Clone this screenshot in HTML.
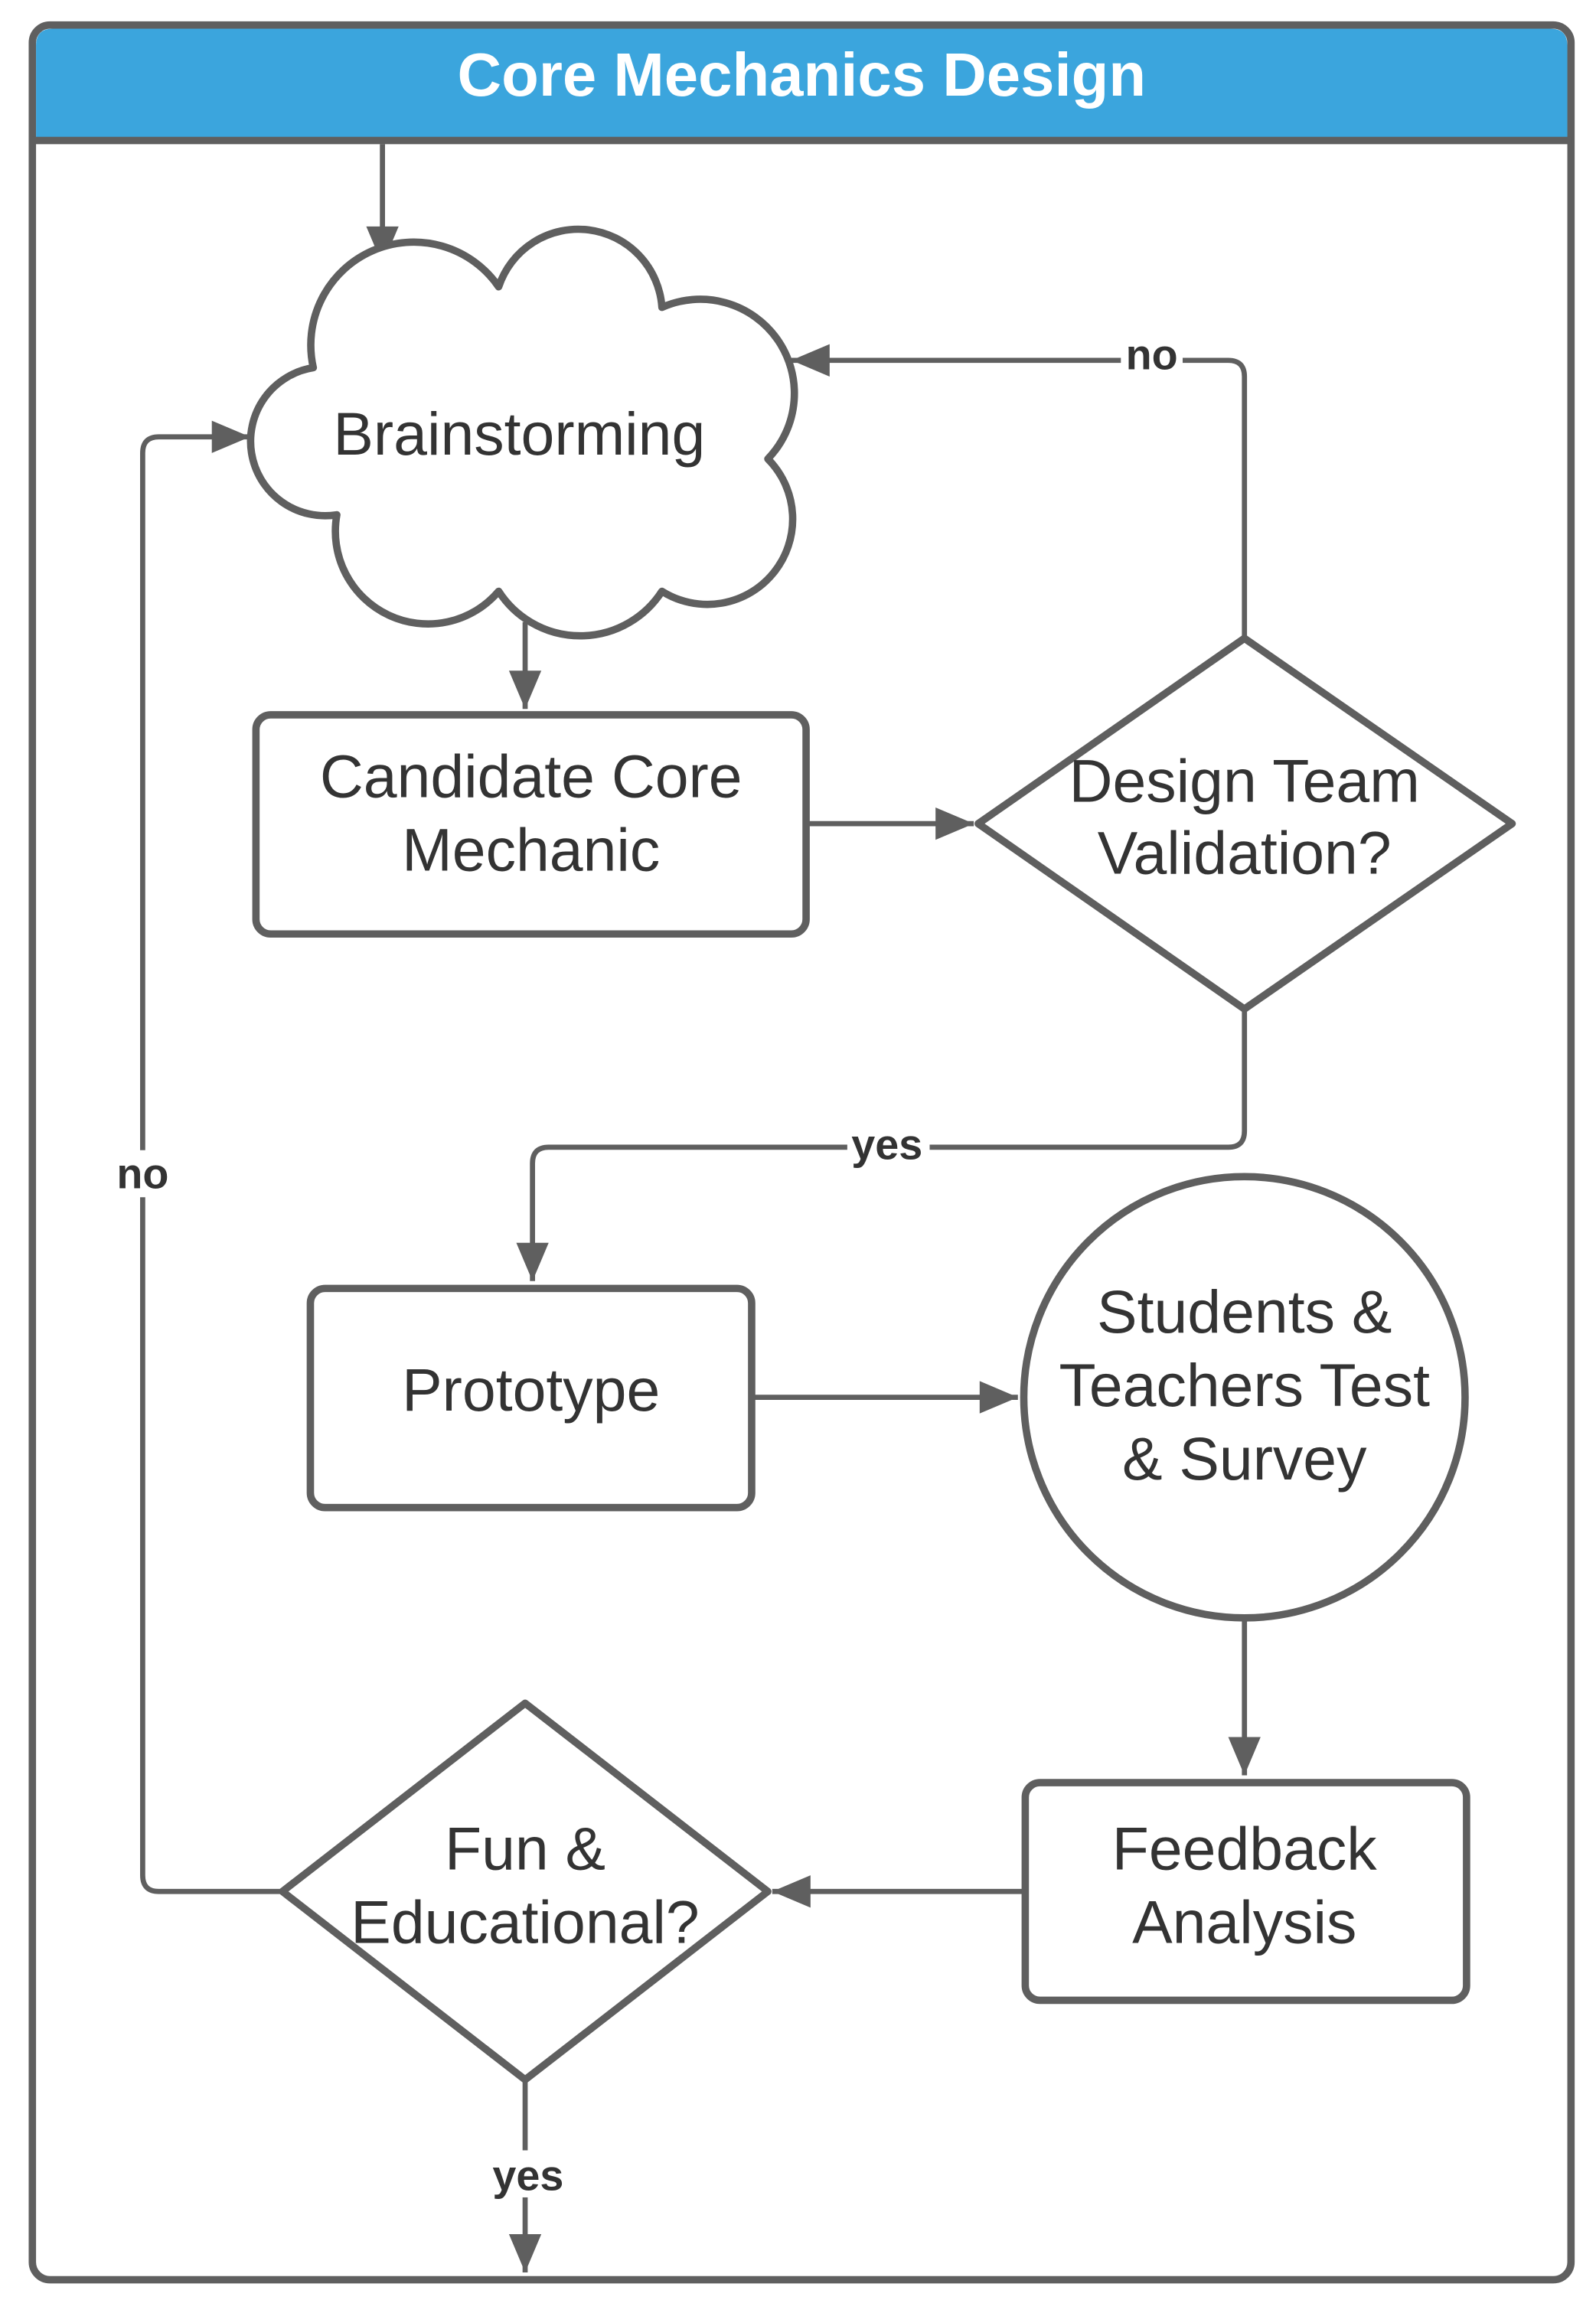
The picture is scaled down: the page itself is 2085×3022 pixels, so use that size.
<!DOCTYPE html>
<html><head><meta charset="utf-8"><style>
html,body{margin:0;padding:0;background:#fff;}
svg{display:block;}
text{font-family:"Liberation Sans",sans-serif;fill:#333;}
</style></head><body>
<svg width="2085" height="3022" viewBox="0 0 1085 1572.6" xmlns="http://www.w3.org/2000/svg">
<defs>
<marker id="a" markerWidth="10" markerHeight="10" refX="9" refY="5" orient="auto" markerUnits="userSpaceOnUse" viewBox="0 0 10 10" style="overflow:visible">
<path d="M-17,-6 L9,5 L-17,16 Z" fill="#5f5f5f"/>
</marker>
</defs>
<!-- frame -->
<rect x="22" y="17" width="1046" height="1533" rx="12" fill="#fff" stroke="#5f5f5f" stroke-width="5"/>
<path d="M24.5,95 V31 Q24.5,19.5 36,19.5 H1054 Q1065.5,19.5 1065.5,31 V95 Z" fill="#3BA5DD"/>
<line x1="22" y1="95.5" x2="1068" y2="95.5" stroke="#5f5f5f" stroke-width="5"/>
<text x="545" y="65" font-size="41.5" font-weight="bold" text-anchor="middle" style="fill:#fff">Core Mechanics Design</text>

<g fill="none" stroke="#5f5f5f" stroke-width="3.5">
<line x1="260" y1="98" x2="260" y2="180" marker-end="url(#a)"/>
<line x1="357" y1="423" x2="357" y2="482" marker-end="url(#a)"/>
<line x1="549" y1="560" x2="662" y2="560" marker-end="url(#a)"/>
<path d="M846,434 V256 Q846,245 835,245 H538" marker-end="url(#a)"/>
<path d="M846,686 V769 Q846,780 835,780 H373 Q362,780 362,791 V871" marker-end="url(#a)"/>
<line x1="512" y1="950" x2="692" y2="950" marker-end="url(#a)"/>
<line x1="846" y1="1101" x2="846" y2="1207" marker-end="url(#a)"/>
<line x1="697" y1="1286" x2="525" y2="1286" marker-end="url(#a)"/>
<path d="M192,1286 H108 Q97,1286 97,1275 V308 Q97,297 108,297 H170" marker-end="url(#a)"/>
<line x1="357" y1="1414" x2="357" y2="1545" marker-end="url(#a)"/>
</g>

<g fill="#fff" stroke="#5f5f5f" stroke-width="5" stroke-linejoin="round">
<path d="M213,250 A70,70 0 0 1 339,195 A57,57 0 0 1 450,209 A64,64 0 0 1 522,312 A58,58 0 0 1 450,402 A66,66 0 0 1 339,402 A63,63 0 0 1 229,350 A50,50 0 0 1 213,250 Z"/>
<rect x="174" y="486" width="374" height="149" rx="10"/>
<path d="M846,434 L1028,560 L846,686 L665,560 Z"/>
<rect x="211" y="876" width="300" height="149" rx="10"/>
<circle cx="846" cy="950" r="150"/>
<rect x="697" y="1212" width="300" height="148" rx="10"/>
<path d="M357,1158 L522,1286 L357,1414 L192,1286 Z"/>
</g>

<g font-size="41" text-anchor="middle">
<text x="353" y="309">Brainstorming</text>
<text x="361" y="542">Candidate Core</text>
<text x="361" y="592">Mechanic</text>
<text x="846" y="545">Design Team</text>
<text x="846" y="594">Validation?</text>
<text x="361" y="959">Prototype</text>
<text x="846" y="906">Students &amp;</text>
<text x="846" y="956">Teachers Test</text>
<text x="846" y="1006">&amp; Survey</text>
<text x="846" y="1271">Feedback</text>
<text x="846" y="1321">Analysis</text>
<text x="357" y="1271">Fun &amp;</text>
<text x="357" y="1321">Educational?</text>
</g>

<g font-size="29" font-weight="bold" text-anchor="middle">
<rect x="762" y="228" width="42" height="28" fill="#fff"/>
<text x="783" y="251">no</text>
<rect x="576" y="762" width="56" height="30" fill="#fff"/>
<text x="603" y="788">yes</text>
<rect x="74" y="782" width="46" height="32" fill="#fff"/>
<text x="97" y="808">no</text>
<rect x="330" y="1462" width="58" height="32" fill="#fff"/>
<text x="359" y="1489">yes</text>
</g>
</svg>
</body></html>
